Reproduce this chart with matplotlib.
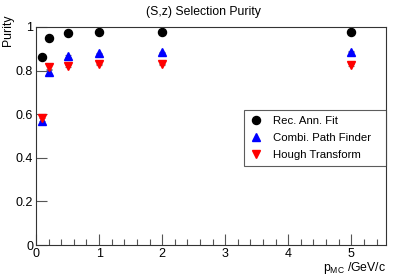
import numpy as np
import matplotlib.pyplot as plt
from matplotlib.ticker import MultipleLocator

plt.rcParams['font.family'] = ['Liberation Sans', 'DejaVu Sans']

# momentum bins (GeV/c)
p_mc = [0.1, 0.2, 0.5, 1.0, 2.0, 5.0]

# purity per method
rec_ann_fit = [0.864, 0.951, 0.971, 0.976, 0.979, 0.977]
combi_path = [0.570, 0.795, 0.867, 0.879, 0.884, 0.887]
hough = [0.581, 0.818, 0.821, 0.829, 0.829, 0.826]

# small stat errors (only visible at low p)
err_combi = [0.012, 0.010, 0.004, 0.003, 0.003, 0.003]
err_hough = [0.012, 0.010, 0.004, 0.003, 0.003, 0.003]

fig = plt.figure(figsize=(4.07, 2.76), dpi=100)
ax = fig.add_axes([36 / 407, 1 - 245 / 276, 350 / 407, 218 / 276])

# error bars first, markers on top
ax.errorbar(p_mc, combi_path, yerr=err_combi, fmt='none', ecolor='#777777',
            elinewidth=0.8, capsize=2.5, capthick=0.8)
ax.errorbar(p_mc, hough, yerr=err_hough, fmt='none', ecolor='#777777',
            elinewidth=0.8, capsize=2.5, capthick=0.8)

ax.plot(p_mc, rec_ann_fit, 'o', color='black', ms=5.8, label='Rec. Ann. Fit')
ax.plot(p_mc, combi_path, '^', color='blue', ms=5.2, label='Combi. Path Finder')
ax.plot(p_mc, hough, 'v', color='red', ms=5.2, label='Hough Transform')

ax.set_xlim(0, 5.55)
ax.set_ylim(0, 1)
ax.xaxis.set_major_locator(MultipleLocator(1))
ax.xaxis.set_minor_locator(MultipleLocator(0.2))
ax.yaxis.set_major_locator(MultipleLocator(0.2))
ax.yaxis.set_major_formatter(plt.FuncFormatter(lambda v, _: '%g' % round(v, 2)))
ax.xaxis.set_major_formatter(plt.FuncFormatter(lambda v, _: '%g' % v))

ax.tick_params(axis='both', which='major', direction='in', length=8, width=0.8,
               color='#555555', labelsize=9, pad=2, top=False, right=False)
ax.tick_params(axis='x', which='minor', direction='in', length=4, width=0.8,
               color='#555555', top=False)
for s in ax.spines.values():
    s.set_linewidth(0.8)
    s.set_color('#333333')

fig.text(0.5, 1 - 12 / 276, '(S,z) Selection Purity', fontsize=8.8,
         ha='center', va='center')
fig.text(8 / 407, 1 - 30 / 276, 'Purity', fontsize=8.8, rotation=90,
         ha='center', va='center')
ax.set_xlabel(r'$\mathregular{p_{MC}}$ /GeV/c', fontsize=8.8, loc='right', labelpad=0)

leg = ax.legend(loc='upper left', bbox_to_anchor=(0.593, 0.62, 0.407, 0.0),
                mode='expand', borderaxespad=0, fontsize=8.2,
                frameon=True, fancybox=False, edgecolor='#333333',
                handletextpad=0.9, borderpad=0.5, labelspacing=0.65,
                handlelength=1.2)
leg.get_frame().set_linewidth(0.8)

fig.savefig('out.png', dpi=100)
